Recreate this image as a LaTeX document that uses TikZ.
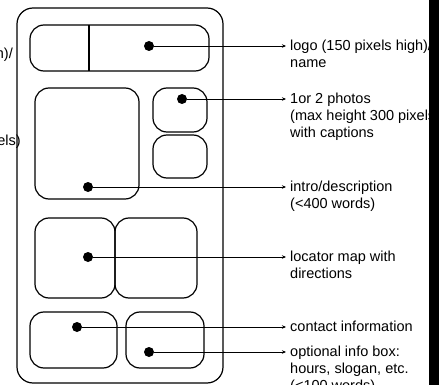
\documentclass[tikz,border=0pt]{standalone}
\usepackage{fontspec}
\setmainfont{Liberation Sans}
\usetikzlibrary{arrows.meta,positioning}

% first line of a label sits on the arrow
\newcommand{\notelines}[1]{\begin{tabular}[t]{@{}l@{}}#1\end{tabular}}

\tikzset{
    panel/.style={draw, line width=1.2pt, rounded corners=14pt, inner sep=0pt},
    spot/.style={circle, fill=black, inner sep=0pt, minimum size=10pt},
    note/.style={anchor=base west, inner sep=0pt, xshift=4pt, yshift=-4.5pt,
        font=\fontsize{14.5}{17}\selectfont},
    pointer/.style={-{Stealth[length=4pt,width=3.5pt]}, line width=0.9pt},
}

\begin{document}
\begin{tikzpicture}[x=1pt, y=-1pt]
    \useasboundingbox (0,0) rectangle (439,385);

    % page outline
    \node[panel, rounded corners=16pt, minimum width=206pt, minimum height=375pt] (page) at (120,195.5) {};

    % boxes
    \node[panel, minimum width=179pt, minimum height=46pt] (logo) at (119.5,48) {};
    \draw[line width=1.2pt] (89,25) -- (89,71);
    \node[panel, minimum width=104pt, minimum height=111pt] (intro) at (87,143.5) {};
    \node[panel, minimum width=54pt, minimum height=44pt] (photoA) at (180,110) {};
    \node[panel, minimum width=54pt, minimum height=43pt] (photoB) at (180,156.5) {};
    \node[panel, minimum width=80pt, minimum height=80pt] (mapA) at (75,258) {};
    \node[panel, minimum width=82pt, minimum height=80pt] (mapB) at (156,258) {};
    \node[panel, minimum width=87pt, minimum height=56pt] (contact) at (73.5,340) {};
    \node[panel, minimum width=78pt, minimum height=56pt] (extra) at (165,340) {};

    % dots
    \node[spot] (dLogo) at (149,46) {};
    \node[spot] (dPhoto) at (182,99) {};
    \node[spot] (dIntro) at (88,187) {};
    \node[spot] (dMap) at (88,257) {};
    \node[spot] (dContact) at (77,327) {};
    \node[spot] (dExtra) at (149,352) {};

    % arrow ends
    \coordinate (tLogo) at (286,46);
    \coordinate (tPhoto) at (286,99);
    \coordinate (tIntro) at (286,187);
    \coordinate (tMap) at (286,257);
    \coordinate (tContact) at (286,327);
    \coordinate (tExtra) at (286,352);

    \draw[pointer] (dLogo) -- (tLogo);
    \draw[pointer] (dPhoto) -- (tPhoto);
    \draw[pointer] (dIntro) -- (tIntro);
    \draw[pointer] (dMap) -- (tMap);
    \draw[pointer] (dContact) -- (tContact);
    \draw[pointer] (dExtra) -- (tExtra);

    % labels
    \node[note] (lLogo) at (tLogo) {\notelines{logo (150 pixels high)/\\name}};
    \node[note] (lPhoto) at (tPhoto) {\notelines{1or 2 photos\\(max height 300 pixels)\\with captions}};
    \node[note] (lIntro) at (tIntro) {\notelines{intro/description\\(<400 words)}};
    \node[note] (lMap) at (tMap) {\notelines{locator map with\\directions}};
    \node[note] (lContact) at (tContact) {contact information};
    \node[note] (lExtra) at (tExtra) {\notelines{optional info box:\\hours, slogan, etc.\\(<100 words)}};

    % cut-off text on the left
    \node[note, anchor=base east, xshift=0pt] (lLeftA) at (9,54) {h)/};
    \node[note, anchor=base east, xshift=0pt] (lLeftB) at (17,141) {els)};

    % black bar on the right
    \fill[black] (429,-2) rectangle (441,387);
\end{tikzpicture}
\end{document}
